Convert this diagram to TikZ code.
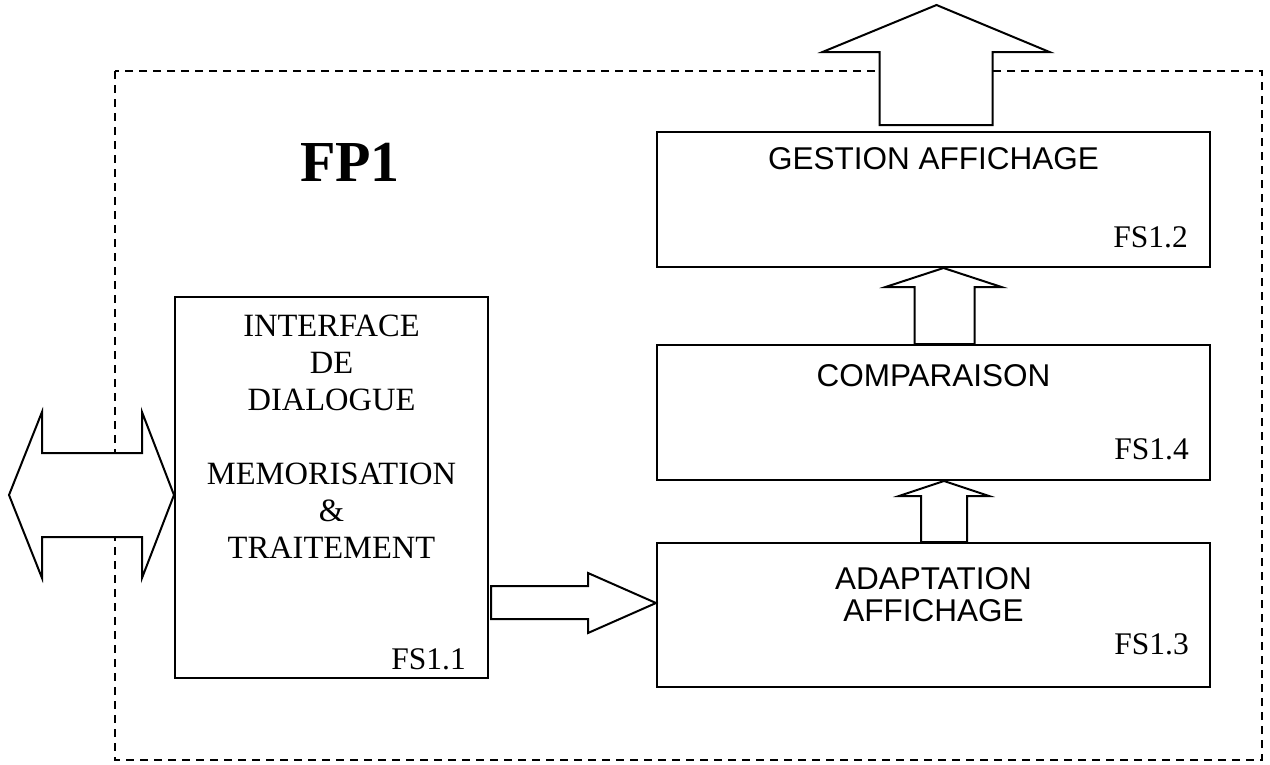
\documentclass[tikz,border=0pt]{standalone}
\usepackage{fontspec}
\setmainfont{Liberation Serif}
\setsansfont{Liberation Sans}
\usepackage{tikz}
\usetikzlibrary{calc,positioning}

\begin{document}
\begin{tikzpicture}[
        x=1pt, y=-1pt,
        box/.style={
            rectangle,
            draw=black,
            line width=2pt,
            minimum width=553pt,
            minimum height=135pt,
            inner sep=0pt
        },
        boxtext/.style={
            inner sep=0pt,
            align=center,
            font=\sffamily\fontsize{31.5}{32}\selectfont
        },
        fslabel/.style={
            inner sep=0pt,
            anchor=base east,
            font=\fontsize{31.5}{37}\selectfont
        },
        blockarrow/.style={
            draw=black,
            fill=white,
            line width=2pt,
            line join=miter
        },
        frame/.style={
            draw=black,
            line width=1.8pt,
            dash pattern=on 8pt off 6pt
        }
    ]
    \useasboundingbox (0,0) rectangle (1270,764);

    % Dashed frame
    \draw[frame] (115,71) rectangle (1262,760);

    % Title
    \node[inner sep=0pt, font=\bfseries\fontsize{58}{60}\selectfont] (title)
        at (350,162) {FP1};

    % Left block
    \node[box, minimum width=313pt, minimum height=381pt] (fs11)
        at (331.5,487.5) {};
    \node[inner sep=0pt, anchor=north, align=center,
        font=\fontsize{32.5}{37}\selectfont] (fs11text)
        at ([yshift=-19pt]fs11.north)
        {INTERFACE\\DE\\DIALOGUE\\[37pt]MEMORISATION\\\&\\TRAITEMENT};
    \node[fslabel] (fs11num) at ([xshift=-23pt, yshift=10pt]fs11.south east) {FS1.1};

    % Right column
    \node[box] (fs12) at (933.5,199.5) {};
    \node[box, below=76pt of fs12] (fs14) {};
    \node[box, below=61pt of fs14, minimum height=144pt] (fs13) {};

    \node[boxtext] (fs12text) at ([yshift=-28pt]fs12.north) {GESTION AFFICHAGE};
    \node[boxtext] (fs14text) at ([yshift=-32pt]fs14.north) {COMPARAISON};
    \node[boxtext, anchor=north] (fs13text) at ([yshift=-25pt]fs13.north)
        {ADAPTATION\\AFFICHAGE};

    \node[fslabel] (fs12num) at ([xshift=-23pt, yshift=21pt]fs12.south east) {FS1.2};
    \node[fslabel] (fs14num) at ([xshift=-22pt, yshift=22pt]fs14.south east) {FS1.4};
    \node[fslabel] (fs13num) at ([xshift=-22pt, yshift=34pt]fs13.south east) {FS1.3};

    % Connection points
    \coordinate (io) at ([yshift=-7.5pt]fs11.west);
    \coordinate (into13) at ([yshift=12pt]fs13.west);
    \coordinate (out12) at ([xshift=3pt, yshift=126pt]fs12.north);
    \coordinate (into12) at ([xshift=10pt]fs12.south);
    \coordinate (into14) at ([xshift=10.5pt]fs14.south);

    % Double arrow: outside <-> FS1.1
    \draw[blockarrow] (io) -- ++(-32,-83) -- ++(0,41) -- ++(-100,0) -- ++(0,-41)
        -- ++(-33,83) -- ++(33,83) -- ++(0,-41) -- ++(100,0) -- ++(0,41) -- cycle;

    % Arrow: FS1.1 -> FS1.3
    \draw[blockarrow] (into13) -- ++(-68,-30) -- ++(0,13) -- ++(-97,0)
        -- ++(0,33) -- ++(97,0) -- ++(0,14) -- cycle;

    % Arrow: FS1.3 -> FS1.4
    \draw[blockarrow] (into14) -- ++(-45,15) -- ++(22,0) -- ++(0,46)
        -- ++(46,0) -- ++(0,-46) -- ++(22,0) -- cycle;

    % Arrow: FS1.4 -> FS1.2
    \draw[blockarrow] (into12) -- ++(-58,19) -- ++(29,0) -- ++(0,57)
        -- ++(60,0) -- ++(0,-57) -- ++(27,0) -- cycle;

    % Arrow: FS1.2 -> outside
    \draw[blockarrow] (out12) -- ++(-114,47) -- ++(57,0) -- ++(0,73)
        -- ++(113,0) -- ++(0,-73) -- ++(57,0) -- cycle;

\end{tikzpicture}
\end{document}
